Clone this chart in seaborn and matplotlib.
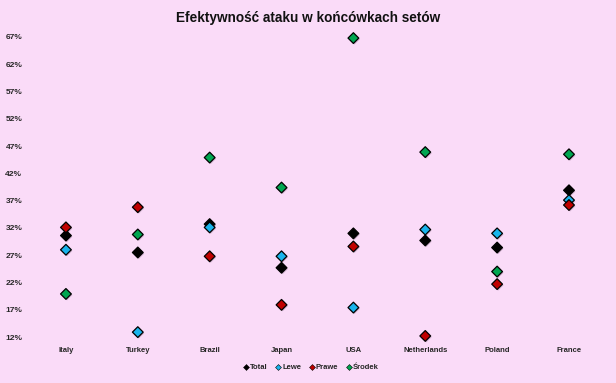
import pandas as pd
import numpy as np
import seaborn as sns
import matplotlib.pyplot as plt
import matplotlib.patheffects as pe
from matplotlib.ticker import FuncFormatter

# Data (percent)
countries = ['Italy', 'Turkey', 'Brazil', 'Japan', 'USA', 'Netherlands', 'Poland', 'France']
total = [30.6, 27.5, 32.7, 24.7, 31.0, 29.7, 28.4, 38.9]
lewe = [28.0, 12.9, 32.1, 26.8, 17.4, 31.7, 31.0, 37.1]
prawe = [32.1, 35.8, 26.8, 17.9, 28.6, 12.2, 21.7, 36.2]
srodek = [19.9, 30.8, 44.9, 39.4, 66.8, 45.9, 24.0, 45.5]
series_names = ['Total', 'Lewe', 'Prawe', 'Środek']
y_ticks = list(range(12, 68, 5))

BG = '#fadbf8'
palette = {'Total': '#000000', 'Lewe': '#19b4ec', 'Prawe': '#c00000', 'Środek': '#00a651'}

rows = []
for name, vals in zip(series_names, [total, lewe, prawe, srodek]):
    for c, v in zip(countries, vals):
        rows.append({'country': c, 'series': name, 'value': v})
df = pd.DataFrame(rows)

sns.set_style('white')
plt.rcParams['font.family'] = ['Liberation Sans', 'DejaVu Sans']

fig = plt.figure(figsize=(6.16, 3.83), dpi=100, facecolor=BG)
ax = fig.add_axes([0.0487, 0.12, 0.9333, 0.7834])
ax.set_facecolor(BG)

sns.scatterplot(data=df, x='country', y='value', hue='series', palette=palette,
                marker='D', s=30, edgecolor='black', linewidth=0.9, ax=ax,
                legend=False, clip_on=False, zorder=3)
for coll in ax.collections:
    coll.set_path_effects([pe.SimplePatchShadow(offset=(0.8, -0.8), shadow_rgbFace='#806080',
                                                alpha=0.35), pe.Normal()])

ax.set_xlim(-0.5, len(countries) - 0.5)
ax.set_ylim(12, 67)
ax.set_yticks(y_ticks)
ax.yaxis.set_major_formatter(FuncFormatter(lambda v, p: f'{v:.0f}%'))
ax.set_xlabel('')
ax.set_ylabel('')
for s in ax.spines.values():
    s.set_visible(False)
ax.tick_params(axis='x', length=0, labelsize=5.5, pad=7)
ax.tick_params(axis='y', length=0, labelsize=6, pad=5.5)
for lbl in ax.get_xticklabels() + ax.get_yticklabels():
    lbl.set_fontweight('bold')

fig.text(0.5, 0.952, 'Efektywność ataku w końcówkach setów', ha='center', va='center',
         fontsize=9.8, fontweight='bold', color='#111111')

handles = [plt.Line2D([], [], marker='D', linestyle='', markersize=3,
                      markerfacecolor=palette[n], markeredgecolor='black', markeredgewidth=0.4)
           for n in series_names]
leg = fig.legend(handles, series_names, loc='center', bbox_to_anchor=(0.505, 0.04), ncol=4,
                 frameon=False, fontsize=5.5, handlelength=0.6, handletextpad=0.2, columnspacing=1.1)
for t in leg.get_texts():
    t.set_fontweight('bold')

fig.savefig('out.png', dpi=100, facecolor=BG)
